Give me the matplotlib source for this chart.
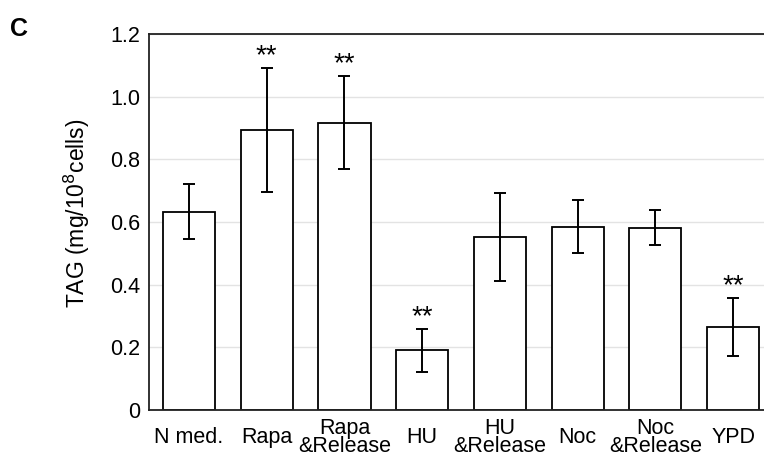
import matplotlib.pyplot as plt
import numpy as np

plt.rcParams['font.family'] = ['Liberation Sans', 'DejaVu Sans']

labels = ['N med.', 'Rapa', 'Rapa\n&Release', 'HU', 'HU\n&Release', 'Noc', 'Noc\n&Release', 'YPD']
tag = [0.632, 0.892, 0.917, 0.190, 0.551, 0.585, 0.582, 0.265]
err = [0.088, 0.198, 0.149, 0.069, 0.140, 0.085, 0.055, 0.092]
signif = [False, True, True, True, False, False, False, True]

x = np.arange(len(labels))

fig = plt.figure(figsize=(7.64, 4.59), dpi=100)
ax = fig.add_axes([0.195, 0.107, 0.817, 0.819])

ax.bar(x, tag, width=0.67, color='white', edgecolor='black', linewidth=1.3, zorder=2)
ax.errorbar(x, tag, yerr=err, fmt='none', ecolor='black', elinewidth=1.4,
            capsize=4, capthick=1.4, zorder=3)

for i in range(len(labels)):
    if signif[i]:
        ax.text(x[i], tag[i] + err[i] + 0.038, '**', ha='center', va='center', fontsize=20)

ax.set_xlim(-0.515, 7.515)
ax.set_ylim(0, 1.2)
ax.set_yticks([0, 0.2, 0.4, 0.6, 0.8, 1.0, 1.2])
ax.set_yticklabels(['0', '0.2', '0.4', '0.6', '0.8', '1.0', '1.2'], fontsize=15.5)
ax.set_xticks(x)
ax.set_xticklabels(labels, fontsize=15.5, linespacing=0.82, va='center')
ax.tick_params(axis='both', length=0)
ax.tick_params(axis='y', pad=6.5)
ax.tick_params(axis='x', pad=20)
ax.yaxis.grid(True, color='#e3e3e3', linewidth=1)
ax.set_axisbelow(True)
for s in ['left', 'bottom', 'top']:
    ax.spines[s].set_linewidth(1.3)
    ax.spines[s].set_color('#222222')
ax.spines['right'].set_visible(False)

ax.set_ylabel('TAG (mg/10$^8$cells)', fontsize=16.5, labelpad=13, y=0.524)

fig.text(0.013, 0.922, 'C', fontsize=18, fontweight='bold')

plt.savefig('out.png', dpi=100)
